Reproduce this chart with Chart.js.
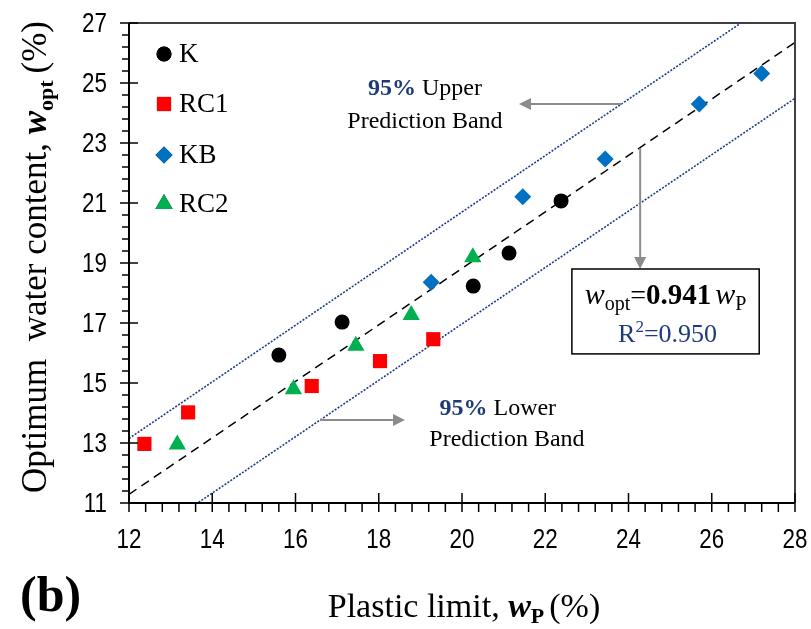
<!DOCTYPE html>
<html><head><meta charset="utf-8">
<script src="https://cdn.jsdelivr.net/npm/chart.js@4/dist/chart.umd.min.js"></script>
<style>html,body{margin:0;padding:0;background:#fff}#wrap{width:811px;height:629px}</style>
</head><body><div id="wrap"><canvas id="c" width="811" height="629"></canvas></div>
<script>
// ---- data ----
const kX   = [15.60, 17.12, 20.27, 21.13, 22.38];
const kY   = [15.93, 17.03, 18.23, 19.33, 21.07];
const rc1X = [12.37, 13.42, 16.39, 18.03, 19.31];
const rc1Y = [12.97, 14.02, 14.90, 15.73, 16.46];
const kbX  = [19.26, 21.46, 23.44, 25.70, 27.20];
const kbY  = [18.36, 21.21, 22.47, 24.30, 25.32];
const rc2X = [13.16, 15.95, 17.45, 18.78, 20.26];
const rc2Y = [12.95, 14.79, 16.24, 17.27, 19.19];
const fitX = [12, 28];
const fitY = [11.29, 26.35];
const bandX  = [12, 20, 28];
const upperY = [13.15, 20.70, 28.22];
const lowerY = [9.45, 16.97, 24.49];
const seriesNames = ['K', 'RC1', 'KB', 'RC2'];
const xTicks = [12, 14, 16, 18, 20, 22, 24, 26, 28];
const yTicks = [11, 13, 15, 17, 19, 21, 23, 25, 27];

const pts = (xs, ys) => xs.map((x, i) => ({x, y: ys[i]}));
const SERIF = '"Liberation Serif","Times New Roman",serif';
const SANS = '"Liberation Sans",Arial,sans-serif';
const NAVY = '#1F3A7A';

function runs(ctx, list, x, y, align) {
  let total = 0;
  list.forEach(r => { ctx.font = r.font; r.w = ctx.measureText(r.text).width; total += r.w + (r.gap || 0); });
  let cx = align === 'center' ? x - total / 2 : x;
  ctx.textBaseline = 'alphabetic'; ctx.textAlign = 'left';
  list.forEach(r => {
    ctx.font = r.font; ctx.fillStyle = r.color || '#000';
    ctx.fillText(r.text, cx, y + (r.dy || 0));
    cx += r.w + (r.gap || 0);
  });
}
function arrow(ctx, x1, y1, x2, y2) {
  ctx.save();
  ctx.strokeStyle = '#8C8C8C'; ctx.fillStyle = '#8C8C8C'; ctx.lineWidth = 2;
  const a = Math.atan2(y2 - y1, x2 - x1), L = 12, W = 6;
  const bx = x2 - Math.cos(a) * L, by = y2 - Math.sin(a) * L;
  ctx.beginPath(); ctx.moveTo(x1, y1); ctx.lineTo(bx, by); ctx.stroke();
  ctx.beginPath(); ctx.moveTo(x2, y2);
  ctx.lineTo(bx - Math.sin(a) * W, by + Math.cos(a) * W);
  ctx.lineTo(bx + Math.sin(a) * W, by - Math.cos(a) * W);
  ctx.closePath(); ctx.fill();
  ctx.restore();
}
function narrowText(ctx, text, x, y, align, baseline) {
  const k = 0.8;
  ctx.save(); ctx.translate(x, y); ctx.scale(k, 1);
  ctx.font = '28px ' + SANS; ctx.fillStyle = '#000';
  ctx.textAlign = align; ctx.textBaseline = baseline;
  ctx.fillText(text, 0, 0);
  ctx.restore();
}

const deco = {
  id: 'deco',
  afterDraw(chart) {
    const {ctx, chartArea: ca, scales: {x: sx, y: sy}} = chart;
    const X = v => sx.getPixelForValue(v), Y = v => sy.getPixelForValue(v);
    ctx.save();
    // frame top/right
    ctx.strokeStyle = '#404040'; ctx.lineWidth = 2;
    ctx.beginPath(); ctx.moveTo(ca.left, ca.top); ctx.lineTo(ca.right, ca.top); ctx.lineTo(ca.right, ca.bottom); ctx.stroke();
    // left / bottom axis
    ctx.strokeStyle = '#000'; ctx.lineWidth = 2;
    ctx.beginPath(); ctx.moveTo(ca.left, ca.top); ctx.lineTo(ca.left, ca.bottom); ctx.lineTo(ca.right, ca.bottom); ctx.stroke();
    // ticks
    ctx.lineWidth = 1.5;
    for (let i = 0; i <= 40; i++) {
      const v = 12 + i * 0.4, p = X(v), major = i % 5 === 0;
      ctx.beginPath(); ctx.moveTo(p, ca.bottom - (major ? 10 : 0)); ctx.lineTo(p, ca.bottom + 9); ctx.stroke();
    }
    for (let i = 0; i <= 40; i++) {
      const v = 11 + i * 0.4, p = Y(v), major = i % 5 === 0;
      ctx.beginPath(); ctx.moveTo(ca.left - (major ? 9 : 7), p); ctx.lineTo(ca.left + (major ? 9 : 0), p); ctx.stroke();
    }
    // tick labels
    xTicks.forEach(v => narrowText(ctx, String(v), X(v), 548, 'center', 'alphabetic'));
    yTicks.forEach(v => narrowText(ctx, String(v), 107, Y(v) + 1, 'right', 'middle'));
    // legend
    const ly = [54, 104, 155, 204];
    chart.data.datasets.slice(0, 4).forEach((ds, i) => {
      const mx = 164, my = ly[i];
      Chart.helpers.drawPoint(ctx, {pointStyle: ds.pointStyle, radius: ds.pointRadius, rotation: 0, borderWidth: 0}, mx, my);
      ctx.fillStyle = ds.backgroundColor; ctx.fill();
      ctx.fillStyle = '#000'; ctx.font = '27px ' + SERIF; ctx.textAlign = 'left'; ctx.textBaseline = 'middle';
      ctx.fillText(ds.label, 179, my + 1);
    });
    // upper band note
    runs(ctx, [{text: '95%', font: 'bold 24px ' + SERIF, color: NAVY, gap: 6}, {text: 'Upper', font: '24px ' + SERIF}], X(19.11), 95, 'center');
    runs(ctx, [{text: 'Prediction Band', font: '24px ' + SERIF}], X(19.11), 128, 'center');
    arrow(ctx, X(23.84), Y(24.3), X(21.37), Y(24.3));
    // lower band note
    runs(ctx, [{text: '95%', font: 'bold 24px ' + SERIF, color: NAVY, gap: 6}, {text: 'Lower', font: '24px ' + SERIF}], X(20.86), 415, 'center');
    runs(ctx, [{text: 'Prediction Band', font: '24px ' + SERIF}], X(21.08), 446, 'center');
    arrow(ctx, X(16.59), Y(13.77), X(18.63), Y(13.77));
    // vertical arrow to box
    arrow(ctx, X(24.28), Y(22.83), X(24.28), Y(18.8));
    // equation box
    const bx1 = X(22.64), bx2 = X(27.14), by1 = Y(18.8), by2 = Y(15.97);
    ctx.fillStyle = '#fff'; ctx.fillRect(bx1, by1, bx2 - bx1, by2 - by1);
    ctx.strokeStyle = '#000'; ctx.lineWidth = 1.5; ctx.strokeRect(bx1, by1, bx2 - bx1, by2 - by1);
    const bc = (bx1 + bx2) / 2;
    runs(ctx, [
      {text: 'w', font: 'italic 30px ' + SERIF},
      {text: 'opt', font: '20px ' + SERIF, dy: 6},
      {text: '=', font: '28px ' + SERIF},
      {text: '0.941', font: 'bold 29px ' + SERIF, gap: 4},
      {text: 'w', font: 'italic 30px ' + SERIF},
      {text: 'P', font: '20px ' + SERIF, dy: 6}
    ], bc, 304, 'center');
    runs(ctx, [
      {text: 'R', font: '26px ' + SERIF, color: NAVY},
      {text: '2', font: '17px ' + SERIF, color: NAVY, dy: -10},
      {text: '=0.950', font: '26px ' + SERIF, color: NAVY}
    ], bc + 2, 342, 'center');
    // x title
    runs(ctx, [
      {text: 'Plastic limit, ', font: '34px ' + SERIF},
      {text: 'w', font: 'bold italic 34px ' + SERIF},
      {text: 'P', font: 'bold 22px ' + SERIF, dy: 6, gap: 5},
      {text: '(%)', font: '34px ' + SERIF}
    ], 464, 617, 'center');
    // (b)
    ctx.fillStyle = '#000'; ctx.font = 'bold 50px ' + SERIF; ctx.textAlign = 'left'; ctx.textBaseline = 'alphabetic';
    ctx.fillText('(b)', 20, 611);
    // y title
    ctx.save(); ctx.translate(46, 257); ctx.rotate(-Math.PI / 2);
    runs(ctx, [
      {text: 'Optimum  water content, ', font: '35px ' + SERIF},
      {text: 'w', font: 'bold italic 35px ' + SERIF},
      {text: 'opt', font: 'bold 22px ' + SERIF, dy: 7, gap: 7},
      {text: '(%)', font: '35px ' + SERIF}
    ], 0, 0, 'center');
    ctx.restore();
    ctx.restore();
  }
};

new Chart(document.getElementById('c'), {
  type: 'scatter',
  data: {
    datasets: [
      {label: seriesNames[0], data: pts(kX, kY), pointStyle: 'circle', pointRadius: 7.5, backgroundColor: '#000', borderWidth: 0},
      {label: seriesNames[1], data: pts(rc1X, rc1Y), pointStyle: 'rect', pointRadius: 10, backgroundColor: '#FF0000', borderWidth: 0},
      {label: seriesNames[2], data: pts(kbX, kbY), pointStyle: 'rectRot', pointRadius: 8.5, backgroundColor: '#0070C0', borderWidth: 0},
      {label: seriesNames[3], data: pts(rc2X, rc2Y), pointStyle: 'triangle', pointRadius: 10, backgroundColor: '#00B050', borderWidth: 0},
      {label: 'fit', data: pts(fitX, fitY), showLine: true, pointRadius: 0, borderColor: '#000', borderWidth: 1.5, borderDash: [9, 6], order: 10},
      {label: 'upper', data: pts(bandX, upperY), showLine: true, pointRadius: 0, borderColor: '#1F3A8A', borderWidth: 1.6, borderDash: [2, 1.5], order: 10},
      {label: 'lower', data: pts(bandX, lowerY), showLine: true, pointRadius: 0, borderColor: '#1F3A8A', borderWidth: 1.6, borderDash: [2, 1.5], order: 10}
    ]
  },
  options: {
    responsive: false, animation: false, devicePixelRatio: 1,
    layout: {padding: {top: 23, right: 16, left: 0, bottom: 0}},
    plugins: {legend: {display: false}, tooltip: {enabled: false}},
    scales: {
      x: {
        type: 'linear', min: 12, max: 28,
        afterBuildTicks: s => { s.ticks = xTicks.map(v => ({value: v})); },
        afterFit: s => { s.height = 126; s.paddingLeft = 0; s.paddingRight = 0; },
        grid: {display: false, drawTicks: false}, border: {display: false},
        ticks: {display: false}
      },
      y: {
        type: 'linear', min: 11, max: 27,
        afterBuildTicks: s => { s.ticks = yTicks.map(v => ({value: v})); },
        afterFit: s => { s.width = 129; s.paddingTop = 0; s.paddingBottom = 0; },
        grid: {display: false, drawTicks: false}, border: {display: false},
        ticks: {display: false}
      }
    }
  },
  plugins: [deco]
});
</script>
</body></html>
